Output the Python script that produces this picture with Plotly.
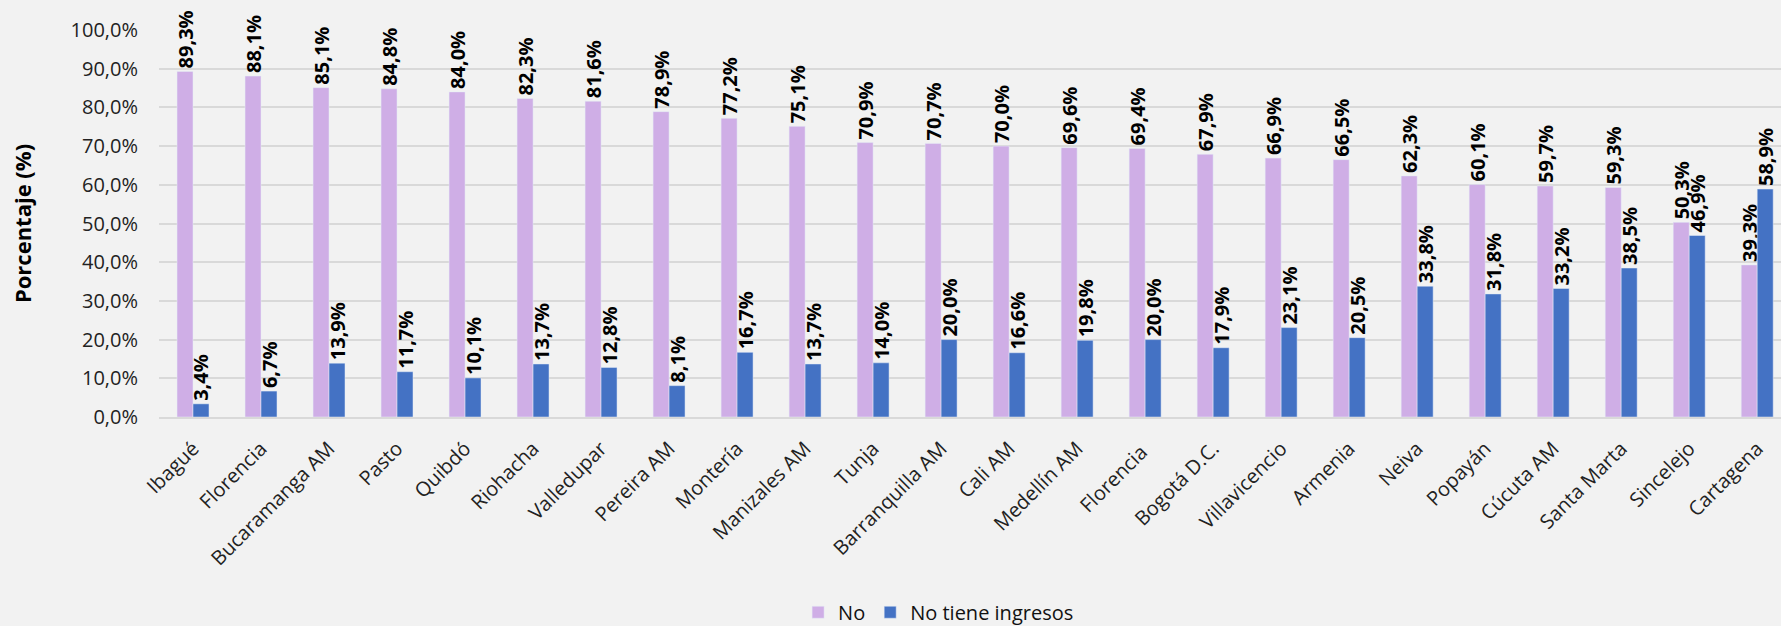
import plotly.graph_objects as go

ciudades = ["Ibagué", "Florencia", "Bucaramanga AM", "Pasto", "Quibdó", "Riohacha",
            "Valledupar", "Pereira AM", "Montería", "Manizales AM", "Tunja",
            "Barranquilla AM", "Cali AM", "Medellín AM", "Florencia ", "Bogotá D.C.",
            "Villavicencio", "Armenia", "Neiva", "Popayán", "Cúcuta AM", "Santa Marta",
            "Sincelejo", "Cartagena"]
no = [89.3, 88.1, 85.1, 84.8, 84.0, 82.3, 81.6, 78.9, 77.2, 75.1, 70.9, 70.7,
      70.0, 69.6, 69.4, 67.9, 66.9, 66.5, 62.3, 60.1, 59.7, 59.3, 50.3, 39.3]
sin_ingresos = [3.4, 6.7, 13.9, 11.7, 10.1, 13.7, 12.8, 8.1, 16.7, 13.7, 14.0, 20.0,
                16.6, 19.8, 20.0, 17.9, 23.1, 20.5, 33.8, 31.8, 33.2, 38.5, 46.9, 58.9]
y_ticks = [0, 10, 20, 30, 40, 50, 60, 70, 80, 90, 100]
y_tick_text = ["0,0%", "10,0%", "20,0%", "30,0%", "40,0%", "50,0%", "60,0%",
               "70,0%", "80,0%", "90,0%", "100,0%"]

font = "Open Sans"
label_font = dict(family=font, size=20, color="black", weight="bold")

fig = go.Figure()
fig.add_bar(x=ciudades, y=no, name="No", marker_color="#CFAEE6",
            texttemplate="%{y:.1f}%", textposition="outside", textangle=-90,
            textfont=label_font, cliponaxis=False, constraintext="none")
fig.add_bar(x=ciudades, y=sin_ingresos, name="No tiene ingresos", marker_color="#4472C4",
            texttemplate="%{y:.1f}%", textposition="outside", textangle=-90,
            textfont=label_font, cliponaxis=False, constraintext="none")

fig.update_layout(
    width=1781, height=626,
    barmode="group", bargap=0.53, bargroupgap=0,
    separators=",.",
    paper_bgcolor="#F2F2F2", plot_bgcolor="#F2F2F2",
    font=dict(family=font, size=20, color="#222222"),
    margin=dict(l=159, r=0, t=30, b=209),
    legend=dict(orientation="h", xref="container", x=0.527, xanchor="center",
                yref="container", y=0.022, yanchor="middle",
                font=dict(size=20, color="#111111")),
)
fig.update_yaxes(range=[0, 100], tickvals=y_ticks, ticktext=y_tick_text,
                 showgrid=True, gridcolor="#D9D9D9", gridwidth=2, zeroline=False,
                 showline=False, ticklabelstandoff=20, automargin=False,
                 title=dict(text="Porcentaje (%)", standoff=32,
                            font=dict(size=22, weight="bold", color="black")))
fig.update_xaxes(range=[-0.5, 23.35], tickangle=-45, showline=True, linecolor="#D9D9D9",
                 linewidth=2, ticklabelstandoff=10, showgrid=False, automargin=False)

fig.write_html("out.html", config={"displayModeBar": False},
               post_script="document.body.style.margin='0';"
                           "document.body.style.background='#F2F2F2';")
